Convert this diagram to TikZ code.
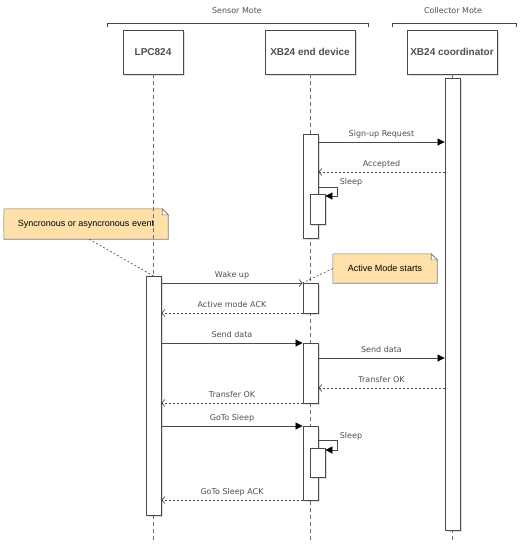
\documentclass[tikz,border=0pt]{standalone}
\usepackage{fontspec}
\setmainfont{DejaVu Sans}
\newfontfamily\arialfont{Liberation Sans}
\usepackage{tikz}
\usetikzlibrary{arrows.meta,positioning,backgrounds,shadows,calc}
\usepackage{xcolor}
\definecolor{linegray}{HTML}{4A4A4A}
\definecolor{textgray}{HTML}{505050}
\definecolor{notefill}{HTML}{FFE0A8}
\tikzset{
  actor/.style  = {rectangle, draw=linegray, fill=white, inner sep=0pt,
                   minimum height=44pt, line width=0.8pt, text=textgray,
                   font=\arialfont\bfseries\fontsize{10}{11}\selectfont,
                   drop shadow={shadow xshift=1.5pt, shadow yshift=-1.5pt, opacity=0.25}},
  act/.style    = {rectangle, draw=linegray, fill=white, inner sep=0pt,
                   minimum width=15pt, anchor=north, line width=0.8pt,
                   drop shadow={shadow xshift=1.5pt, shadow yshift=-1.5pt, opacity=0.25}},
  life/.style   = {draw=linegray!80, line width=0.7pt, dash pattern=on 4pt off 3pt},
  grp/.style    = {font=\fontsize{8}{9}\selectfont, text=textgray},
  msg/.style    = {font=\fontsize{8}{9}\selectfont, text=textgray, above,
                   inner sep=3pt, text height=6pt, text depth=2pt},
  call/.style   = {-{Triangle[length=7pt,width=7pt,color=black]}, draw=linegray, line width=0.7pt},
  async/.style  = {-{Straight Barb[length=3pt,width=7pt]}, draw=linegray, line width=0.7pt},
  ret/.style    = {-{Straight Barb[length=3pt,width=7pt]}, draw=linegray, line width=0.7pt,
                   dash pattern=on 2pt off 2pt},
  notetext/.style = {font=\arialfont\fontsize{9}{10}\selectfont, text=black, inner sep=0pt},
  note/.style   = {draw=linegray!70, fill=notefill, line width=0.6pt},
  notelink/.style = {draw=linegray, line width=0.6pt, dash pattern=on 2pt off 2pt},
}

\begin{document}
\begin{tikzpicture}[x=1pt, y=-1pt]

\useasboundingbox (0,0) rectangle (522,550);

%% Groups
\node[grp] (sensor)    at (237,11) {Sensor Mote};
\node[grp] (collector) at (453,11) {Collector Mote};
\draw[linegray, line width=0.7pt] (107,27) -- (107,23) -- (368,23) -- (368,27);
\draw[linegray, line width=0.7pt] (392,27) -- (392,23) -- (516,23) -- (516,27);

%% Participants
\node[actor, minimum width=60pt] (lpc)   at (153,52) {LPC824};
\node[actor, minimum width=90pt] (dev)   at (310,52) {XB24 end device};
\node[actor, minimum width=90pt] (coord) at (452,52) {XB24 coordinator};

%% Lifelines
\coordinate (bottom) at (0,540);
\draw[life] (lpc.south)   -- (lpc.south |- bottom);
\draw[life] (dev.south)   -- (dev.south |- bottom);
\draw[life] (coord.south) -- (coord.south |- bottom);

%% Activations
\node[act, minimum height=452pt] (ca)  at (452.5,78)  {};
\node[act, minimum height=104pt] (da1) at (310.5,134) {};
\node[act, minimum height=30pt]  (ds1) at (317.5,194) {};
\node[act, minimum height=239pt] (la)  at (153.5,276) {};
\node[act, minimum height=30pt]  (da2) at (310.5,283) {};
\node[act, minimum height=60pt]  (da3) at (310.5,343) {};
\node[act, minimum height=74pt]  (da4) at (310.5,426) {};
\node[act, minimum height=29pt]  (ds2) at (317.5,448) {};

%% Message levels
\coordinate (m1)  at (0,142);
\coordinate (m2)  at (0,172);
\coordinate (s1)  at (0,187);
\coordinate (m3)  at (0,283);
\coordinate (m4)  at (0,313);
\coordinate (m5)  at (0,343);
\coordinate (m6)  at (0,358);
\coordinate (m7)  at (0,388);
\coordinate (m8)  at (0,403);
\coordinate (m9)  at (0,426);
\coordinate (s2)  at (0,440);
\coordinate (m10) at (0,500);

%% Messages
\draw[call] (da1.east |- m1) -- (ca.west |- m1)  node[msg, midway] {Sign-up Request};
\draw[ret]  (ca.west |- m2)  -- (da1.east |- m2) node[msg, midway] {Accepted};
\draw[call] (da1.east |- s1) -- ++(19,0) |- ([yshift=-2pt]ds1.north east);
\node[msg, anchor=center] (sl1) at (351,182) {Sleep};

\draw[async] (la.east |- m3)  -- (da2.west |- m3)  node[msg, midway] {Wake up};
\draw[ret]   (da2.west |- m4) -- (la.east |- m4)   node[msg, midway] {Active mode ACK};
\draw[call]  (la.east |- m5)  -- (da3.west |- m5)  node[msg, midway] {Send data};
\draw[call]  (da3.east |- m6) -- (ca.west |- m6)   node[msg, midway] {Send data};
\draw[ret]   (ca.west |- m7)  -- (da3.east |- m7)  node[msg, midway] {Transfer OK};
\draw[ret]   (da3.west |- m8) -- (la.east |- m8)   node[msg, midway] {Transfer OK};
\draw[call]  (la.east |- m9)  -- (da4.west |- m9)  node[msg, midway] {GoTo Sleep};
\draw[call]  (da4.east |- s2) -- ++(19,0) |- ([yshift=-2pt]ds2.north east);
\node[msg, anchor=center] (sl2) at (351,436) {Sleep};
\draw[ret]   (da4.west |- m10) -- (la.east |- m10) node[msg, midway] {GoTo Sleep ACK};

%% Notes
\node[notetext, minimum width=164pt, minimum height=30pt] (n1) at (86,224)
  {Syncronous or asyncronous event};
\node[notetext, minimum width=104pt, minimum height=29pt] (n2) at (385,268.5)
  {Active Mode starts};
\begin{scope}[on background layer]
  \fill[white] (0,0) rectangle (522,550);
  \foreach \n in {n1,n2}{
    \fill[black, opacity=0.2, xshift=1.5pt, yshift=-1.5pt]
      (\n.north west) -- ([xshift=-6pt]\n.north east) -- ([yshift=-6pt]\n.north east)
      -- (\n.south east) -- (\n.south west) -- cycle;
    \draw[note] (\n.north west) -- ([xshift=-6pt]\n.north east) -- ([yshift=-6pt]\n.north east)
      -- (\n.south east) -- (\n.south west) -- cycle;
    \draw[note, fill=white] ([xshift=-6pt]\n.north east) |- ([yshift=-6pt]\n.north east) -- cycle;
  }
\end{scope}
\draw[notelink] ($(n1.south west)!0.52!(n1.south east)$) -- (la.north);
\draw[notelink] (n2.west) -- (da2.north west);

\end{tikzpicture}
\end{document}
